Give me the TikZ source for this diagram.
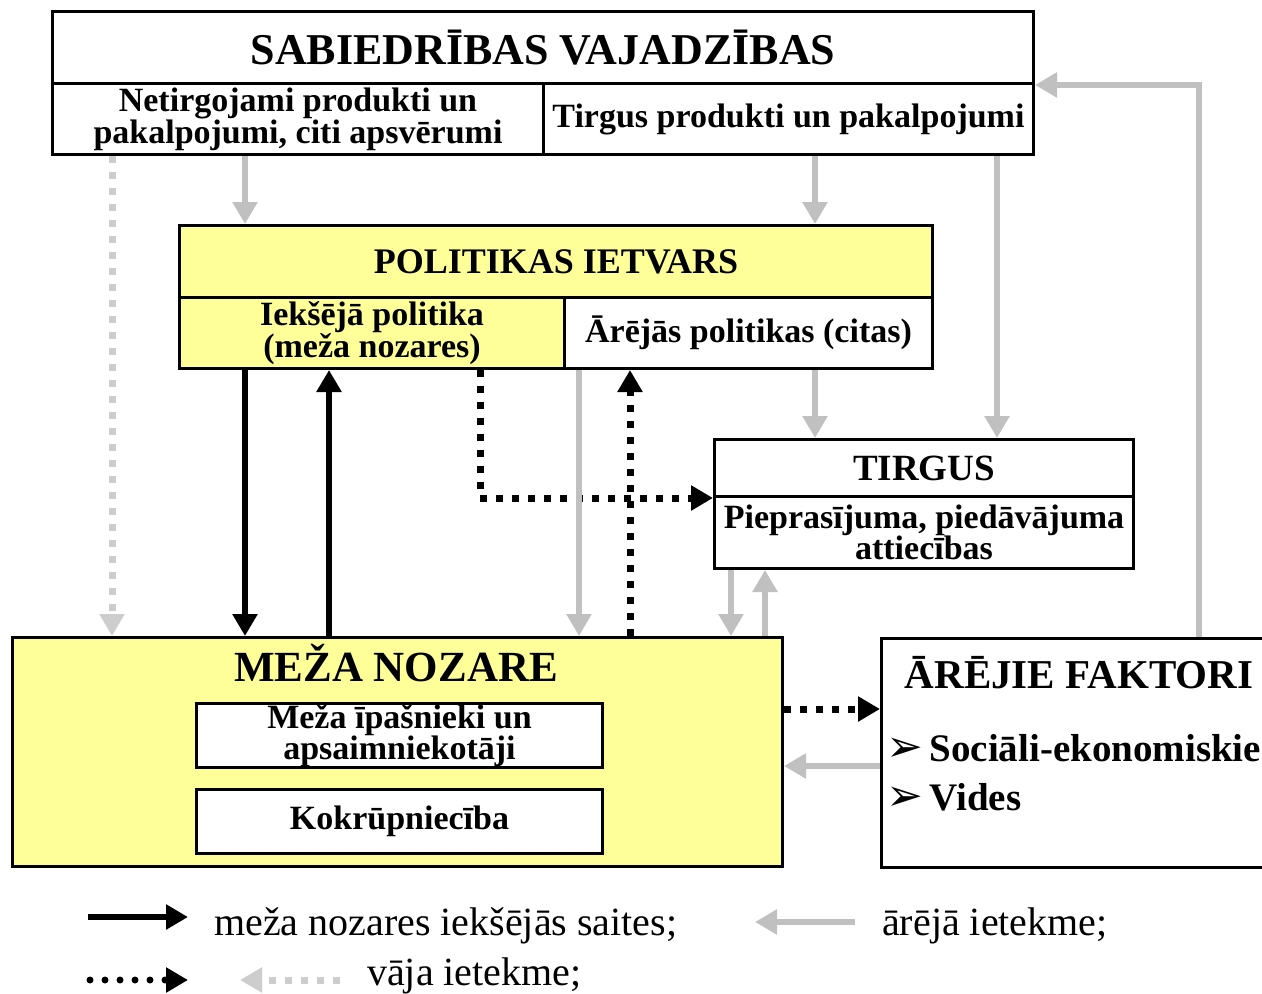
\documentclass[tikz,border=0pt]{standalone}
\usepackage{fontspec}
\setmainfont{Liberation Serif}
\newfontfamily\symfont{DejaVu Sans}
\usetikzlibrary{arrows.meta}

\definecolor{paleyellow}{HTML}{FFFF99}
\definecolor{linkgray}{HTML}{C0C0C0}
\definecolor{weakgray}{HTML}{CDCDCD}

\newcommand{\cellfont}{\fontsize{34}{31}\selectfont\bfseries}
\newcommand{\legendfont}{\fontsize{40}{42}\selectfont}
\newcommand{\bulletmark}{{\symfont\fontsize{44}{44}\selectfont ➢}}

\tikzset{
	cell/.style={draw, line width=3pt, inner sep=0pt, anchor=north west, align=center, font=\cellfont},
	title/.style={font=\fontsize{#1}{#1}\selectfont\bfseries},
	tip/.style={-{Triangle[length=22pt,width=24pt]}},
	innerlink/.style={tip, line width=6.5pt, black},
	outerlink/.style={tip, line width=6.5pt, linkgray},
	weaklink/.style={tip, line width=7pt, black, dash pattern=on 7pt off 9pt},
	faintlink/.style={tip, line width=7pt, weakgray, dash pattern=on 7pt off 9pt},
}

\begin{document}
\begin{tikzpicture}[x=1pt, y=-1pt]
	\useasboundingbox (0,0) rectangle (1262,994);
	\clip (0,0) rectangle (1262,994);

	% society needs
	\node[cell, minimum width=981pt, minimum height=72pt, title=44] (sabTitle) at (51,10) {SABIEDRĪBAS VAJADZĪBAS};
	\node[cell, minimum width=491pt, minimum height=71pt] (sabLeft) at (51,82) {Netirgojami produkti un\\pakalpojumi, citi apsvērumi};
	\node[cell, minimum width=490pt, minimum height=71pt] (sabRight) at (542,82) {Tirgus produkti un pakalpojumi};

	% policy framework
	\node[cell, fill=paleyellow, minimum width=753pt, minimum height=72pt, title=36] (polTitle) at (178,224) {POLITIKAS IETVARS};
	\node[cell, fill=paleyellow, minimum width=385pt, minimum height=71pt] (polLeft) at (178,296) {Iekšējā politika\\(meža nozares)};
	\node[cell, fill=white, minimum width=368pt, minimum height=71pt] (polRight) at (563,296) {Ārējās politikas (citas)};

	% market
	\node[cell, minimum width=419pt, minimum height=57pt, title=37] (tirTitle) at (713,438) {TIRGUS};
	\node[cell, minimum width=419pt, minimum height=72pt] (tirBody) at (713,495) {Pieprasījuma, piedāvājuma\\attiecības};

	% forest sector
	\node[cell, fill=paleyellow, minimum width=770pt, minimum height=229pt] (mezaBox) at (11,636) {};
	\node[title=43] (mezaTitle) at (396,663) {MEŽA NOZARE};
	\node[cell, fill=white, minimum width=406pt, minimum height=64pt] (ipasn) at (195,702) {Meža īpašnieki un\\apsaimniekotāji};
	\node[cell, fill=white, minimum width=406pt, minimum height=64pt] (kokr) at (195,788) {Kokrūpniecība};

	% external factors
	\node[cell, minimum width=400pt, minimum height=229pt] (arejBox) at (880,637) {};
	\node[title=41] (arejTitle) at (1079,673) {ĀRĒJIE FAKTORI};
	\node[title=39, anchor=west, inner sep=0pt] (arejSoc) at (886,748) {\bulletmark\,Sociāli-ekonomiskie};
	\node[title=39, anchor=west, inner sep=0pt] (arejVid) at (886,797) {\bulletmark\,Vides};

	% links
	\draw[faintlink] (112,0 |- sabLeft.south) -- (112,0 |- mezaBox.north);
	\draw[outerlink] (245,0 |- sabLeft.south) -- (245,0 |- polTitle.north);
	\draw[outerlink] (815,0 |- sabRight.south) -- (815,0 |- polTitle.north);
	\draw[outerlink] (997,0 |- sabRight.south) -- (997,0 |- tirTitle.north);
	\draw[outerlink] (1199,0 |- arejBox.north) |- (sabTitle.south east);
	\draw[innerlink] (245,0 |- polLeft.south) -- (245,0 |- mezaBox.north);
	\draw[innerlink] (329,0 |- mezaBox.north) -- (329,0 |- polLeft.south);
	\draw[weaklink] (480,0 |- polLeft.south) |- (tirTitle.south west);
	\draw[outerlink] (579,0 |- polRight.south) -- (579,0 |- mezaBox.north);
	\draw[weaklink] (630,0 |- mezaBox.north) -- (630,0 |- polRight.south);
	\draw[outerlink] (815,0 |- polRight.south) -- (815,0 |- tirTitle.north);
	\draw[outerlink] (731,0 |- tirBody.south) -- (731,0 |- mezaBox.north);
	\draw[outerlink] (765,0 |- mezaBox.north) -- (765,0 |- tirBody.south);
	\draw[weaklink] (mezaBox.east |- 0,709) -- (arejBox.west |- 0,709);
	\draw[outerlink] (arejBox.west |- 0,766) -- (mezaBox.east |- 0,766);

	% legend
	\coordinate (legInA) at (88,917);
	\coordinate (legInB) at (188,917);
	\coordinate (legOutA) at (855,922);
	\coordinate (legOutB) at (755,922);
	\coordinate (legWeakA) at (90,980);
	\coordinate (legWeakB) at (188,980);
	\coordinate (legFaintA) at (340,980);
	\coordinate (legFaintB) at (240,980);
	\draw[innerlink] (legInA) -- (legInB);
	\draw[outerlink] (legOutA) -- (legOutB);
	\draw[weaklink, line cap=round, dash pattern=on 0pt off 15pt] (legWeakA) -- (legWeakB);
	\draw[faintlink] (legFaintA) -- (legFaintB);
	\node[font=\legendfont, anchor=base west, inner sep=0pt] (legInText) at (214,935) {meža nozares iekšējās saites;};
	\node[font=\legendfont, anchor=base west, inner sep=0pt] (legOutText) at (882,935) {ārējā ietekme;};
	\node[font=\legendfont, anchor=base west, inner sep=0pt] (legWeakText) at (367,985) {vāja ietekme;};
\end{tikzpicture}
\end{document}
